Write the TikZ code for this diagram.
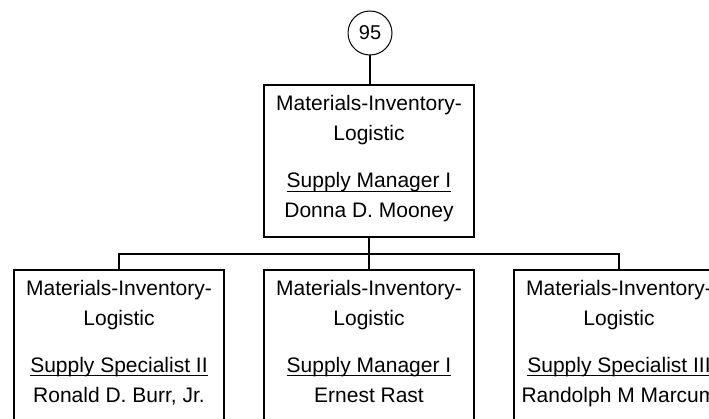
\documentclass[tikz,border=0pt]{standalone}
\usepackage{fontspec}
\setmainfont{Liberation Sans}
\newsavebox{\ulbox}
\newcommand{\myuline}[1]{\sbox{\ulbox}{#1}\rlap{\rule[-4.2pt]{\wd\ulbox}{1.3pt}}\usebox{\ulbox}}
\begin{document}
\begin{tikzpicture}[x=1pt,y=-1pt,
  box/.style={draw, line width=1.5pt, minimum width=210pt, minimum height=152pt, inner sep=0pt, fill=white},
  label/.style={anchor=base, align=center, inner sep=0pt, font=\fontsize{21}{30}\selectfont},
  conn/.style={line width=1.5pt},
  badge/.style={draw, circle, line width=1pt, minimum size=44pt, inner sep=0pt, font=\fontsize{20}{24}\selectfont}]
\useasboundingbox (0,0) rectangle (709,419);
\clip (0,0) rectangle (709,419);
\fill[white] (0,0) rectangle (709,419);
% circle
\node[badge] (c) at (370,33) {95};
% top box
\node[box] (t) at (369,161) {};
\node[label] (tt) at (369,218) {Materials-Inventory-\\Logistic\\[17pt]\myuline{Supply Manager I}\\Donna D. Mooney};
% bottom boxes
\node[box] (l) at (119,346) {};
\node[label] (lt) at (119,402) {Materials-Inventory-\\Logistic\\[17pt]\myuline{Supply Specialist II}\\Ronald D. Burr, Jr.};
\node[box] (m) at (369,346) {};
\node[label] (mt) at (369,402) {Materials-Inventory-\\Logistic\\[17pt]\myuline{Supply Manager I}\\Ernest Rast};
\node[box] (r) at (619,346) {};
\node[label] (rt) at (619,402) {Materials-Inventory-\\Logistic\\[17pt]\myuline{Supply Specialist III}\\Randolph M Marcum};
% connectors
\draw[conn] (c.south) -- (c.south |- t.north);
\coordinate (j) at (369,254);
\draw[conn] (t.south) -- (j);
\draw[conn] (l.north) |- (j) -| (r.north);
\draw[conn] (j) -- (m.north);
\end{tikzpicture}
\end{document}
